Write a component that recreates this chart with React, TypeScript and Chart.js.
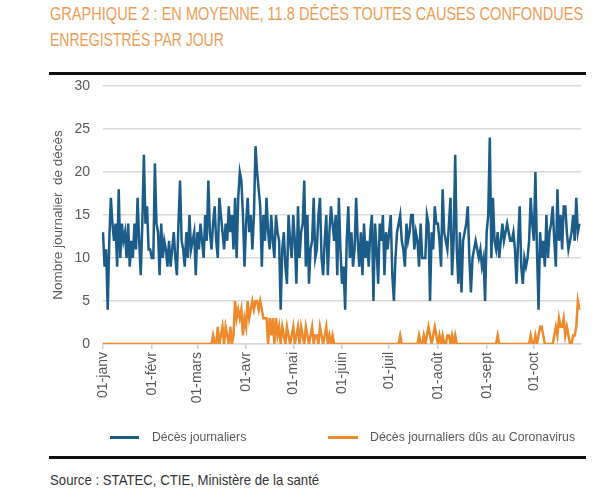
import React, { useEffect, useLayoutEffect, useRef, useState } from "react";
import { Chart, registerables } from "chart.js";

Chart.register(...registerables);

const FONT = "'Liberation Sans Narrow', 'Liberation Sans', Arial, sans-serif";

const MONTHS = ["janv", "févr", "mars", "avr", "mai", "juin", "juil", "août", "sept", "oct"];
const MONTH_DAYS = [31, 29, 31, 30, 31, 30, 31, 31, 30, 31];

// Décès journaliers (toutes causes)
const deathsJan = [13, 9, 11, 4, 12, 17, 14, 12, 14, 9, 18, 10, 14, 12, 13, 10, 14, 9, 12, 10, 14, 11, 17, 12, 8, 14, 22, 14, 16, 11, 11];
const deathsFeb = [10, 10, 21, 14, 13, 8, 14, 10, 12, 11, 9, 12, 9, 11, 13, 10, 8, 14, 19, 12, 11, 9, 13, 10, 15, 11, 12, 13, 8];
const deathsMar = [13, 11, 14, 12, 10, 15, 12, 19, 13, 11, 14, 16, 12, 10, 17, 15, 13, 11, 14, 12, 16, 13, 15, 11, 17, 10, 17, 20, 19, 15, 9];
const deathsApr = [14, 17, 13, 15, 11, 15, 23, 20, 18, 16, 9, 15, 12, 17, 13, 11, 15, 12, 10, 15, 13, 12, 4, 11, 13, 9, 7, 15, 12, 10];
const deathsMay = [15, 12, 7, 16, 10, 13, 14, 19, 9, 15, 7, 11, 12, 17, 10, 11, 15, 17, 10, 8, 12, 15, 8, 13, 16, 14, 12, 15, 8, 17, 11];
const deathsJun = [7, 9, 4, 12, 16, 10, 13, 9, 11, 17, 12, 9, 13, 8, 14, 10, 12, 9, 13, 15, 5, 14, 11, 7, 14, 12, 15, 8, 13, 11];
const deathsJul = [13, 15, 8, 5, 10, 13, 14, 15, 12, 11, 9, 14, 12, 13, 15, 15, 11, 13, 12, 9, 14, 10, 10, 10, 15, 14, 5, 13, 11, 16, 14];
const deathsAug = [14, 12, 9, 18, 13, 12, 11, 14, 17, 8, 12, 22, 11, 7, 13, 6, 12, 13, 14, 16, 10, 6, 10, 11, 12, 11, 10, 11, 9, 10, 5];
const deathsSep = [13, 15, 24, 10, 17, 12, 11, 13, 10, 12, 14, 12, 13, 14, 13, 12, 12, 13, 11, 7, 12, 16, 9, 7, 10, 9, 10, 12, 17, 14];
const deathsOct = [12, 20, 11, 4, 13, 10, 12, 9, 15, 10, 13, 14, 16, 12, 9, 18, 12, 15, 11, 16, 16, 13, 11, 12, 13, 15, 12, 17, 13, 14];

// Décès journaliers dûs au Coronavirus
const covidJan = [0, 0, 0, 0, 0, 0, 0, 0, 0, 0, 0, 0, 0, 0, 0, 0, 0, 0, 0, 0, 0, 0, 0, 0, 0, 0, 0, 0, 0, 0, 0];
const covidFeb = [0, 0, 0, 0, 0, 0, 0, 0, 0, 0, 0, 0, 0, 0, 0, 0, 0, 0, 0, 0, 0, 0, 0, 0, 0, 0, 0, 0, 0];
const covidMar = [0, 0, 0, 0, 0, 0, 0, 0, 0, 0, 1, 0, 0, 2, 0, 1, 2, 0, 2, 1, 0, 2, 0, 1, 5, 3, 4, 3, 4, 1, 3];
const covidApr = [2, 5, 3, 4, 5, 4, 5, 5, 4, 5, 4, 3, 3, 3, 0, 3, 1, 3, 0, 3, 1, 2, 0, 2, 1, 0, 2, 1, 0, 1];
const covidMay = [2, 0, 1, 2, 0, 2, 1, 0, 2, 1, 0, 1, 2, 0, 1, 1, 0, 2, 1, 0, 1, 2, 0, 1, 0, 1, 0, 0, 0, 0, 0];
const covidJun = [0, 0, 0, 0, 0, 0, 0, 0, 0, 0, 0, 0, 0, 0, 0, 0, 0, 0, 0, 0, 0, 0, 0, 0, 0, 0, 0, 0, 0, 0];
const covidJul = [0, 0, 0, 0, 0, 0, 0, 1, 0, 0, 0, 0, 0, 0, 0, 0, 0, 0, 0, 1, 0, 0, 1, 0, 1, 2, 1, 0, 1, 2, 1];
const covidAug = [0, 1, 0, 1, 0, 0, 1, 1, 0, 1, 0, 1, 0, 0, 0, 0, 0, 0, 0, 0, 0, 0, 0, 0, 0, 0, 0, 0, 0, 0, 0];
const covidSep = [0, 0, 0, 0, 0, 0, 0, 1, 0, 0, 0, 0, 0, 0, 0, 0, 0, 0, 0, 0, 0, 0, 0, 0, 0, 0, 0, 0, 1, 0];
const covidOct = [0, 1, 0, 1, 2, 2, 1, 0, 0, 0, 0, 0, 0, 1, 2, 1, 3, 2, 2, 3, 1, 2, 1, 0, 0, 1, 1, 2, 5, 4];

const Y_TICKS = [0, 5, 10, 15, 20, 25, 30];

const BLUE = "#1b5c88";
const ORANGE = "#ee892c";
const TITLE_ORANGE = "#f19c55";
const GREY_TEXT = "#595959";

function buildLabels(): string[] {
  const out: string[] = [];
  MONTHS.forEach((m, mi) => {
    for (let d = 1; d <= MONTH_DAYS[mi]; d++) {
      out.push(`${d < 10 ? "0" + d : d}-${m}`);
    }
  });
  return out;
}

function FitText(props: {
  text: string;
  left: number;
  top: number;
  width: number;
  fontSize: number;
  color: string;
}) {
  const ref = useRef<HTMLSpanElement>(null);
  const [s, setS] = useState(1);
  useLayoutEffect(() => {
    if (ref.current) {
      const w = ref.current.offsetWidth;
      if (w > 0) setS(props.width / w);
    }
  }, [props.text, props.width]);
  return (
    <span
      ref={ref}
      style={{
        position: "absolute",
        left: props.left,
        top: props.top,
        fontSize: props.fontSize,
        color: props.color,
        whiteSpace: "nowrap",
        transform: `scaleX(${s})`,
        transformOrigin: "0 0",
        fontFamily: "'Liberation Sans', Arial, sans-serif",
        lineHeight: 1,
        display: "inline-block",
      }}
    >
      {props.text}
    </span>
  );
}

export default function App() {
  const canvasRef = useRef<HTMLCanvasElement>(null);

  useEffect(() => {
    if (!canvasRef.current) return;
    const labels = buildLabels();
    const deaths = [
      ...deathsJan, ...deathsFeb, ...deathsMar, ...deathsApr, ...deathsMay,
      ...deathsJun, ...deathsJul, ...deathsAug, ...deathsSep, ...deathsOct,
    ];
    const covid = [
      ...covidJan, ...covidFeb, ...covidMar, ...covidApr, ...covidMay,
      ...covidJun, ...covidJul, ...covidAug, ...covidSep, ...covidOct,
    ];
    const chart = new Chart(canvasRef.current, {
      type: "line",
      data: {
        labels,
        datasets: [
          {
            label: "Décès journaliers dûs au Coronavirus",
            data: covid,
            borderColor: ORANGE,
            backgroundColor: ORANGE,
            borderWidth: 2.5,
            pointRadius: 0,
            tension: 0,
          },
          {
            label: "Décès journaliers",
            data: deaths,
            borderColor: BLUE,
            backgroundColor: BLUE,
            borderWidth: 2.5,
            pointRadius: 0,
            tension: 0,
          },
        ],
      },
      options: {
        animation: false,
        responsive: false,
        maintainAspectRatio: false,
        layout: { padding: { left: 0, right: 19, top: 26, bottom: 0 } },
        plugins: {
          legend: { display: false },
          tooltip: { enabled: false },
        },
        scales: {
          x: {
            type: "category",
            grid: {
              display: true,
              drawOnChartArea: false,
              drawTicks: true,
              tickLength: 5,
              color: "#cfcfcf",
              lineWidth: 1.5,
            },
            border: { display: true, color: "#d9d9d9", width: 1.5 },
            ticks: {
              autoSkip: false,
              maxRotation: 90,
              minRotation: 90,
              padding: 3,
              color: GREY_TEXT,
              font: { size: 14, family: FONT },
              callback: (_v: any, i: number) => {
                const l = labels[i];
                return l && l.startsWith("01-") ? l : null;
              },
            },
            afterFit: (s: any) => {
              s.height = 96;
            },
          },
          y: {
            min: Y_TICKS[0],
            max: Y_TICKS[Y_TICKS.length - 1],
            afterBuildTicks: (s: any) => {
              s.ticks = Y_TICKS.map((v) => ({ value: v }));
            },
            ticks: {
              padding: 13,
              color: GREY_TEXT,
              font: { size: 14, family: FONT },
            },
            grid: { color: "#d9d9d9", lineWidth: 1.5, drawTicks: false },
            border: { display: false },
            title: {
              display: true,
              text: "Nombre journalier  de décès",
              color: GREY_TEXT,
              font: { size: 13.5, family: FONT },
              padding: { top: 50, bottom: 0 },
            },
            afterFit: (s: any) => {
              s.width = 103;
            },
          },
        },
      },
    } as any);
    return () => chart.destroy();
  }, []);

  return (
    <div
      style={{
        position: "fixed",
        left: 0,
        top: 0,
        width: 600,
        height: 500,
        background: "#fff",
        overflow: "hidden",
      }}
    >
      <FitText text="GRAPHIQUE 2 : EN MOYENNE, 11.8 DÉCÈS TOUTES CAUSES CONFONDUES" left={50} top={5} width={533} fontSize={18} color={TITLE_ORANGE} />
      <FitText text="ENREGISTRÉS PAR JOUR" left={50} top={31} width={174} fontSize={18} color={TITLE_ORANGE} />
      <div style={{ position: "absolute", left: 49, top: 72, width: 537, height: 3, background: "#111" }} />
      <canvas
        ref={canvasRef}
        width={600}
        height={380}
        style={{ position: "absolute", left: 0, top: 60, width: 600, height: 380 }}
      />
      <div style={{ position: "absolute", left: 110, top: 436, width: 29, height: 3, background: BLUE }} />
      <FitText text="Décès journaliers" left={152} top={430} width={94} fontSize={13.5} color={GREY_TEXT} />
      <div style={{ position: "absolute", left: 328, top: 436, width: 30, height: 3, background: ORANGE }} />
      <FitText text="Décès journaliers dûs au Coronavirus" left={370} top={430} width={205} fontSize={13.5} color={GREY_TEXT} />
      <div style={{ position: "absolute", left: 49, top: 456, width: 537, height: 3, background: "#111" }} />
      <FitText text="Source : STATEC, CTIE, Ministère de la santé" left={50} top={472} width={269} fontSize={15} color="#333" />
    </div>
  );
}
